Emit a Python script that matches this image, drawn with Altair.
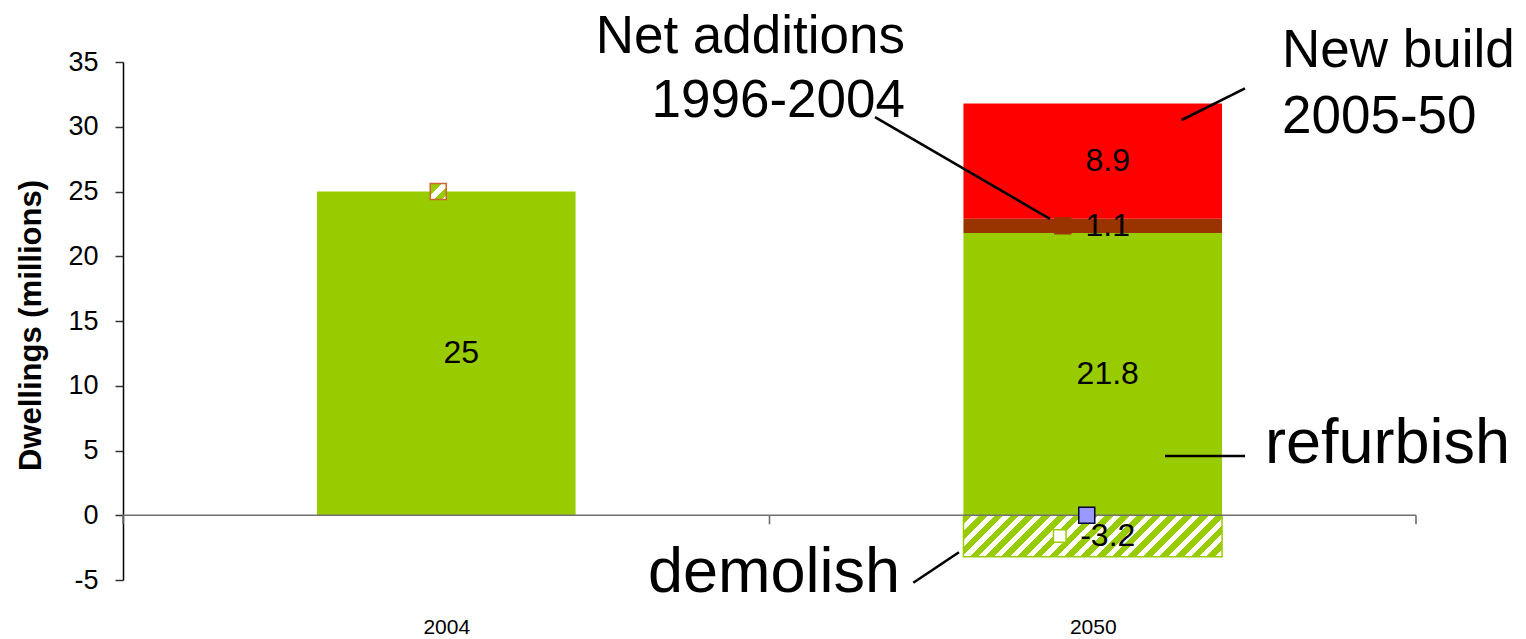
import altair as alt
import pandas as pd

# ---- data -------------------------------------------------------------
years = ["2004", "2050"]
stock_2004 = 25.0
parts_2050 = ["refurbish", "net additions 1996-2004", "new build 2005-50"]
values_2050 = [21.8, 1.1, 8.9]
demolished_2050 = -3.2
y_ticks = [-5, 0, 5, 10, 15, 20, 25, 30, 35]

# ---- styling ----------------------------------------------------------
GREEN = "#99CC00"
BROWN = "#993300"
RED = "#FF0000"
part_colors = [GREEN, BROWN, RED]
FONT = "Liberation Sans"

W, H = 1293, 518            # plot area
Y_MIN, Y_MAX = -5, 35
BAR_HALF = 0.2              # half bar width, in category units

xscale = alt.Scale(domain=[0, len(years)], nice=False, zero=False)
yscale = alt.Scale(domain=[Y_MIN, Y_MAX], nice=False, zero=False)

# ---- stacked segments ---------------------------------------------------
rows = [{"pos": years.index("2004") + 0.5, "part": "stock",
         "y0": 0.0, "y1": stock_2004, "value": stock_2004}]
base = 0.0
for p, v in zip(parts_2050, values_2050):
    rows.append({"pos": years.index("2050") + 0.5, "part": p,
                 "y0": base, "y1": base + v, "value": v})
    base += v
bars = pd.DataFrame(rows)

demo = pd.DataFrame([{"pos": years.index("2050") + 0.5, "part": "demolish",
                      "y0": 0.0, "y1": demolished_2050, "value": demolished_2050}])

labels = pd.concat([bars, demo], ignore_index=True)
labels["mid"] = (labels.y0 + labels.y1) / 2
labels["label"] = labels["value"].map(lambda v: f"{v:g}")

# ---- hatch pattern for the demolished block (diagonal stripes) ----------
cat_px = W / len(years)
bw = 2 * BAR_HALF * cat_px
bh = abs(demolished_2050) * H / (Y_MAX - Y_MIN)
s = (bw + bh) * bw / (bw * bw + bh * bh)
n_stripes = round((bw + bh) / 16)
stops = []
for i in range(n_stripes):
    a, m, b = i / n_stripes, (i + 0.55) / n_stripes, (i + 1) / n_stripes
    stops += [alt.GradientStop(color=GREEN, offset=a),
              alt.GradientStop(color=GREEN, offset=m),
              alt.GradientStop(color="white", offset=m),
              alt.GradientStop(color="white", offset=b)]
hatch = alt.LinearGradient(gradient="linear", stops=stops,
                           x1=0, y1=0, x2=s, y2=s * bh / bw)

small_hatch = alt.LinearGradient(
    gradient="linear", x1=0, y1=0, x2=1, y2=1,
    stops=[alt.GradientStop(color=GREEN, offset=0),
           alt.GradientStop(color=GREEN, offset=0.38),
           alt.GradientStop(color="white", offset=0.38),
           alt.GradientStop(color="white", offset=0.62),
           alt.GradientStop(color=GREEN, offset=0.62),
           alt.GradientStop(color=GREEN, offset=0.86),
           alt.GradientStop(color="white", offset=0.86),
           alt.GradientStop(color="white", offset=1)])

# ---- axes -------------------------------------------------------------
x_axis = alt.Axis(values=[i + 0.5 for i in range(len(years))],
                  labelExpr=f"{years!r}[floor(datum.value)]",
                  grid=False, domain=False, ticks=False,
                  labelFont=FONT, labelFontSize=21, labelColor="black",
                  labelPadding=53, labelBaseline="alphabetic", title=None)
y_axis = alt.Axis(values=y_ticks, labelExpr="'' + datum.value", grid=False,
                  domainColor="black", domainWidth=1.5,
                  tickColor="#333333", tickWidth=1.5, tickSize=8,
                  labelFont=FONT, labelFontSize=27, labelColor="black",
                  labelPadding=17,
                  title="Dwellings (millions)", titleFont=FONT,
                  titleFontSize=31, titleFontWeight="bold", titleColor="black",
                  titleX=-83, titleY=H / 2 + 4, titleBaseline="alphabetic")


def X(field):
    return alt.X(field, type="quantitative", scale=xscale)


def Y(field):
    return alt.Y(field, type="quantitative", scale=yscale)


stack = alt.Chart(bars).transform_calculate(
    xa=f"datum.pos - {BAR_HALF}", xb=f"datum.pos + {BAR_HALF}"
).mark_rect().encode(
    x=alt.X("xa:Q", scale=xscale, axis=x_axis),
    x2="xb:Q",
    y=alt.Y("y0:Q", scale=yscale, axis=y_axis),
    y2="y1:Q",
    color=alt.Color("part:N", legend=None,
                    scale=alt.Scale(domain=["stock"] + parts_2050,
                                    range=[GREEN] + part_colors)),
)

demolish = alt.Chart(demo).transform_calculate(
    xa=f"datum.pos - {BAR_HALF}", xb=f"datum.pos + {BAR_HALF}"
).mark_rect(fill=hatch, stroke=GREEN, strokeWidth=1.5).encode(
    x=X("xa"), x2="xb:Q", y=Y("y0"), y2="y1:Q",
)

# zero line with category-boundary ticks
axis_color = "#707070"
zero_line = alt.Chart(pd.DataFrame({"a": [0], "b": [len(years)], "y0": [0]})).mark_rule(
    color=axis_color, strokeWidth=1.6
).encode(x=X("a"), x2="b:Q", y=Y("y0"))

bounds = pd.DataFrame({"xa": list(range(len(years) + 1)), "y0": 0.0, "y1": -0.7})
x_ticks = alt.Chart(bounds).mark_rule(color=axis_color, strokeWidth=1.6).encode(
    x=X("xa"), y=Y("y0"), y2="y1:Q")

value_text = alt.Chart(labels).mark_text(
    font=FONT, fontSize=32, color="black", dx=15, baseline="middle"
).encode(x=X("pos"), y=Y("mid"), text="label:N")


# small keys next to the value labels
def key(df, **mark):
    return alt.Chart(df).mark_point(shape="square", filled=True, opacity=1, **mark).encode(
        x=X("pos"), y=Y("y0"))


p04 = years.index("2004") + 0.5
p50 = years.index("2050") + 0.5
key_stock = key(pd.DataFrame({"pos": [p04], "y0": [stock_2004]}),
                size=256, fill=small_hatch, stroke="#CC6633", strokeWidth=1.5, xOffset=-8)
key_net = key(pd.DataFrame({"pos": [p50], "y0": [values_2050[0] + values_2050[1] / 2]}),
              size=300, fill=BROWN, xOffset=-30)
key_zero = key(pd.DataFrame({"pos": [p50], "y0": [0.0]}),
               size=256, fill="#9999FF", stroke="#000033", strokeWidth=1.5, xOffset=-6)
key_demo = key(pd.DataFrame({"pos": [p50], "y0": [demolished_2050 / 2]}),
               size=160, fill="white", stroke=GREEN, strokeWidth=1.5, xOffset=-33)

# call-out text and leader lines (positions in axis units)
notes_right = pd.DataFrame({
    "text": ["Net additions", "1996-2004", "demolish"],
    "xa": [1.2096, 1.2096, 1.2019],
    "y0": [35.69, 30.75, -5.93],
    "fs": [53, 53, 63],
})
notes_left = pd.DataFrame({
    "text": ["New build", "2005-50", "refurbish"],
    "xa": [1.7927, 1.7927, 1.7665],
    "y0": [34.61, 29.52, 4.03],
    "fs": [53, 53, 63],
})


def notes(df, align):
    return alt.Chart(df).mark_text(font=FONT, color="black", align=align,
                                   baseline="alphabetic").encode(
        x=X("xa"), y=Y("y0"),
        size=alt.Size("fs:Q", scale=None, legend=None),
        text="text:N")


leaders = pd.DataFrame({
    "xa": [1.1632, 1.6376, 1.6118, 1.2224],
    "y0": [30.75, 30.52, 4.575, -5.21],
    "xb": [1.4339, 1.7355, 1.7355, 1.2931],
    "y1": [22.88, 32.97, 4.575, -2.86],
})
leader_lines = alt.Chart(leaders).mark_rule(color="black", strokeWidth=2.6).encode(
    x=X("xa"), x2="xb:Q", y=Y("y0"), y2="y1:Q")

chart = alt.layer(
    stack, demolish, zero_line, x_ticks, leader_lines, value_text,
    key_stock, key_net, key_demo, key_zero,
    notes(notes_right, "right"), notes(notes_left, "left"),
).properties(
    width=W, height=H,
    padding={"left": 123, "top": 62, "right": 110, "bottom": 59},
    autosize=alt.AutoSizeParams(type="none"),
    background="white",
).configure_view(stroke=None)

chart.save("out.html", embed_options={"renderer": "svg", "actions": False})
